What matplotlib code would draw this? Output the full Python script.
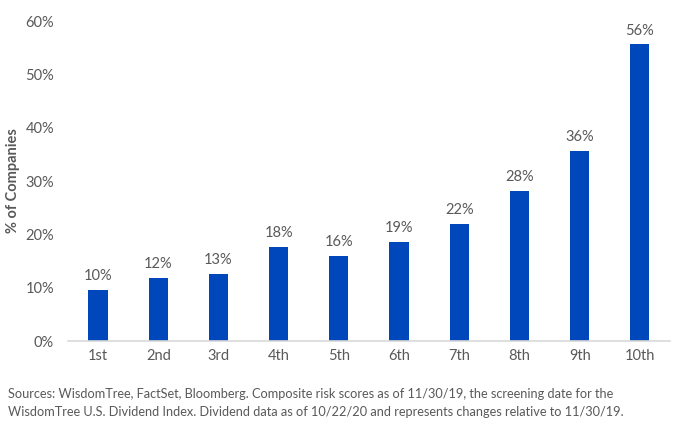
"""
    Répartition des entreprises par décile de risque composite
"""

import numpy as np
import matplotlib
matplotlib.use("Agg")
import matplotlib.pyplot as plt

# données
deciles = ["1st", "2nd", "3rd", "4th", "5th", "6th", "7th", "8th", "9th", "10th"]
pct_companies = [9.6, 11.8, 12.6, 17.6, 15.9, 18.6, 21.9, 28.1, 35.7, 55.6]
y_ticks = [0, 10, 20, 30, 40, 50, 60]

BLEU = "#0047BB"
GRIS = "#595959"

plt.rcParams['font.family'] = ['Lato', 'DejaVu Sans']

fig = plt.figure(figsize=(6.76, 4.29), dpi=100)
ax = fig.add_axes([0.1006, 0.2051, 0.8904, 0.7459])

x = np.arange(len(deciles))
bars = ax.bar(x, pct_companies, width=0.32, color=BLEU, zorder=2)

# étiquettes au-dessus des barres
for xi, v in zip(x, pct_companies):
    ax.annotate(f"{v:.0f}%", (xi, v), xytext=(0, 5), textcoords="offset points",
                ha="center", va="bottom", fontsize=10.5, color=GRIS)

ax.set_xlim(-0.5, 9.5)
ax.set_ylim(0, 60)
ax.set_yticks(y_ticks)
ax.set_yticklabels([f"{t}%" for t in y_ticks])
ax.set_xticks(x)
ax.set_xticklabels(deciles)
ax.tick_params(axis="both", length=0, labelsize=10.5, labelcolor=GRIS)
ax.tick_params(axis="y", pad=10)
ax.tick_params(axis="x", pad=6)

for s in ["top", "right", "left"]:
    ax.spines[s].set_visible(False)
ax.spines["bottom"].set_color("#D9D9D9")
ax.spines["bottom"].set_linewidth(1.2)

ax.set_ylabel("% of Companies", fontsize=10.5, fontweight="bold", color=GRIS)
ax.yaxis.set_label_coords(-0.080, 0.5)

fig.text(0.012, 0.0606,
         "Sources: WisdomTree, FactSet, Bloomberg. Composite risk scores as of 11/30/19, the screening date for the\n"
         "WisdomTree U.S. Dividend Index. Dividend data as of 10/22/20 and represents changes relative to 11/30/19.",
         fontsize=9.2, color=GRIS, ha="left", va="center", linespacing=1.55)

fig.savefig("out.png", dpi=100)
